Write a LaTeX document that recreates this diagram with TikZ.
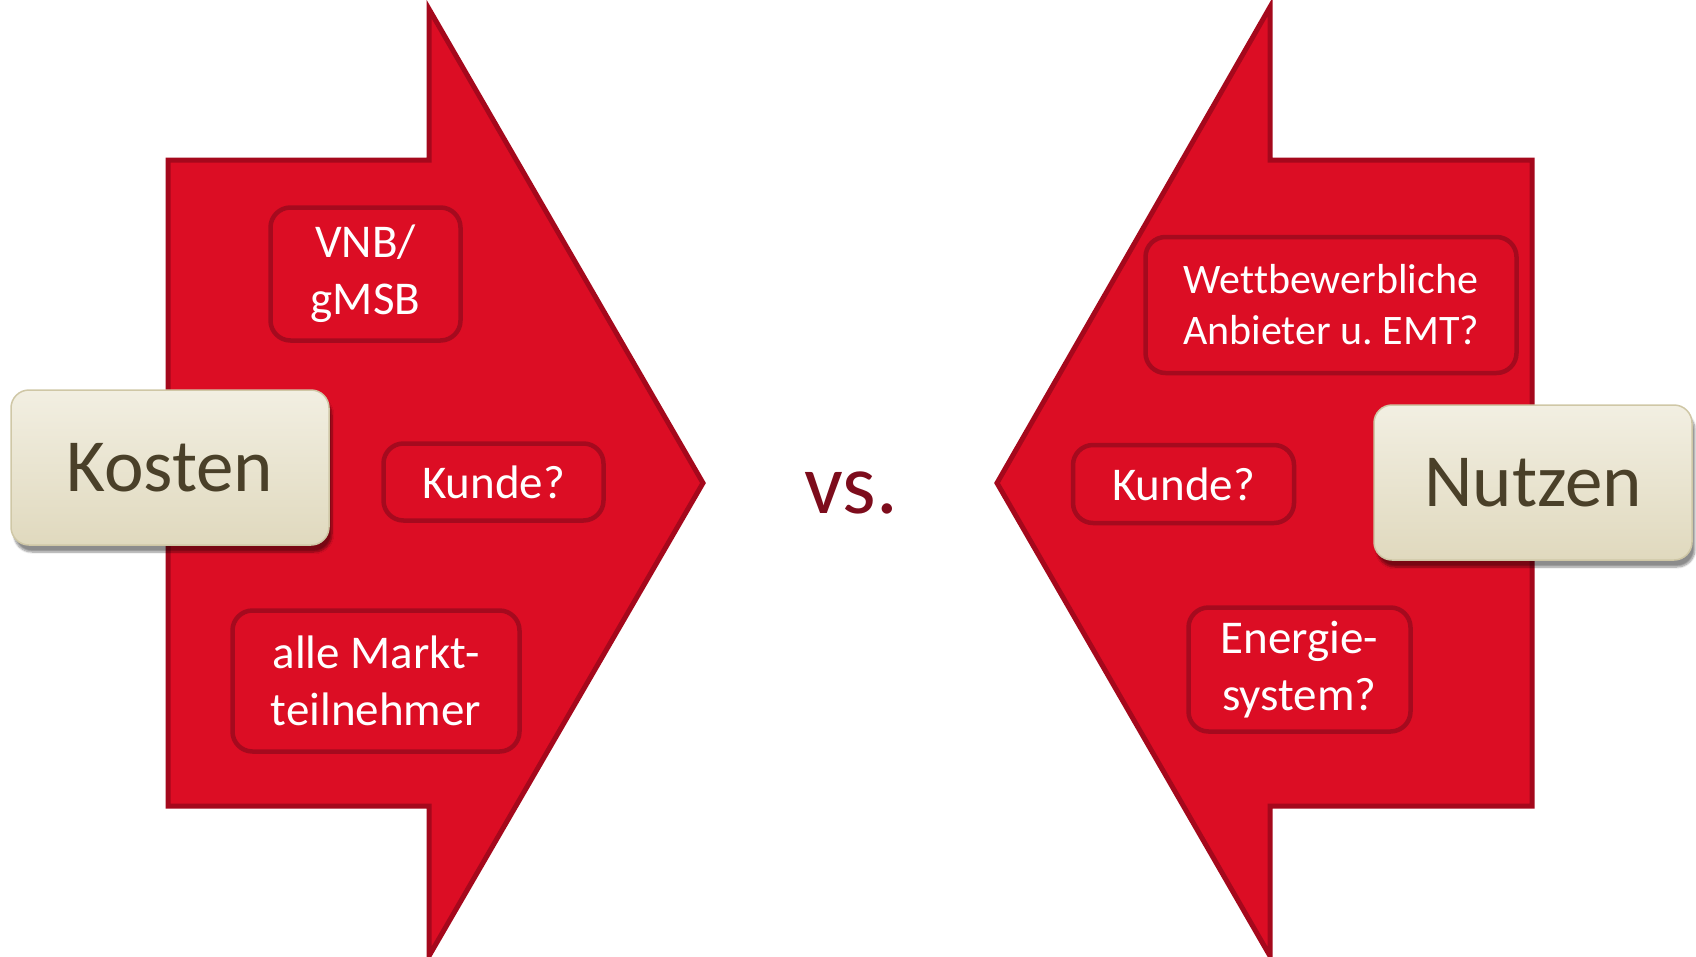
\documentclass[tikz,border=0pt]{standalone}
\usepackage{fontspec}
\setmainfont[Ligatures=NoCommon]{Carlito}
\usetikzlibrary{shadows,shadows.blur}
\definecolor{arrowred}{HTML}{DC0D24}
\definecolor{arrowedge}{HTML}{A5081C}
\definecolor{boxedge}{HTML}{A50A1E}
\definecolor{beige}{HTML}{E5DFC6}
\definecolor{beigetop}{HTML}{F2EFE2}
\definecolor{beigebot}{HTML}{E0D9BE}
\definecolor{beigeedge}{HTML}{CFC7A6}
\definecolor{beigetext}{HTML}{4A4029}
\definecolor{vsred}{HTML}{7D0C1C}
\begin{document}
\begin{tikzpicture}[x=1pt,y=-1pt,
  bigarrow/.style={fill=arrowred, draw=arrowedge, line width=5pt, line join=miter},
  redbox/.style={draw=boxedge, fill=arrowred, line width=4.5pt, rounded corners=20pt,
    text=white, align=center, inner sep=0pt, font=\fontsize{47}{57}\selectfont},
  beigebox/.style={top color=beigetop, middle color=beige, bottom color=beigebot,
    draw=beigeedge, line width=1.5pt, rounded corners=18pt,
    text=beigetext, inner sep=0pt, font=\fontsize{75}{80}\selectfont,
    blur shadow={shadow xshift=3pt, shadow yshift=-7pt, shadow blur steps=8,
      shadow blur extra rounding=4pt, shadow opacity=45}},
]
\useasboundingbox (0,0) rectangle (1696,956);
% left arrow
\draw[bigarrow] (168,160) -- (429,160) -- (429,9) -- (703,483) -- (429,956)
  -- (429,806) -- (168,806) -- cycle;
% right arrow
\draw[bigarrow] (1532,160) -- (1270,160) -- (1270,7) -- (997,483) -- (1270,956)
  -- (1270,806) -- (1532,806) -- cycle;

% left boxes
\node[redbox, minimum width=190pt, minimum height=133pt] (vnb) at (365.5,274) {VNB/\\gMSB};
\node[redbox, minimum width=220pt, minimum height=77pt] (kundeL) at (493.5,482) {Kunde?};
\node[redbox, minimum width=287pt, minimum height=141pt] (alle) at (376,681) {alle Markt-\\teilnehmer};
% right boxes
\node[redbox, minimum width=371pt, minimum height=136pt, font=\fontsize{42}{51}\selectfont] (wett) at (1331,305) {Wettbewerbliche\\Anbieter u.\ EMT?};
\node[redbox, minimum width=221pt, minimum height=78pt] (kundeR) at (1183.5,484) {Kunde?};
\node[redbox, minimum width=222pt, minimum height=124pt] (energie) at (1299.5,669.5) {Energie-\\system?};

% beige labels
\node[beigebox, minimum width=318pt, minimum height=155pt] (kosten) at (170,467.5) {Kosten};
\node[beigebox, minimum width=318pt, minimum height=155pt] (nutzen) at (1533,482.5) {Nutzen};

% vs.
\node[text=vsred, font=\fontsize{86}{90}\selectfont, anchor=base, inner sep=0pt] (vs) at (851,513) {vs.};
\end{tikzpicture}
\end{document}
